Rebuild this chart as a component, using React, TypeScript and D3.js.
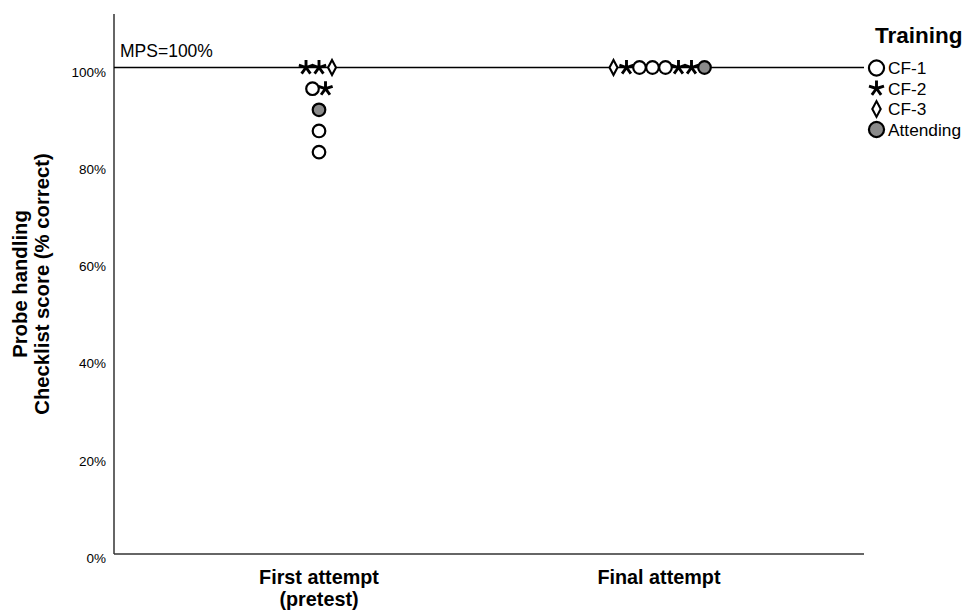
import React from "react";
import * as d3 from "d3";

const categories = ["First attempt", "Final attempt"];
const categoryLines = [["First attempt", "(pretest)"], ["Final attempt"]];
const groups = ["CF-1", "CF-2", "CF-3", "Attending"];
const yTicks = [0, 20, 40, 60, 80, 100];
const mps = 100;

// rows of dots: [category, score (% correct), list of groups in order]
const rowCategory = ["First attempt", "First attempt", "First attempt", "First attempt", "First attempt", "Final attempt"];
const rowScore = [100, 95.65, 91.3, 86.96, 82.61, 100];
const rowMembers = [
  ["CF-2", "CF-2", "CF-3"],
  ["CF-1", "CF-2"],
  ["Attending"],
  ["CF-1"],
  ["CF-1"],
  ["CF-3", "CF-2", "CF-1", "CF-1", "CF-1", "CF-2", "CF-2", "Attending"],
];

const W = 978;
const H = 613;
const font = "'Liberation Sans', Arial, sans-serif";

function starPath(r: number) {
  let d = "";
  for (let i = 0; i < 5; i++) {
    const a = (-90 + i * 72) * Math.PI / 180;
    d += `M0,0L${(Math.cos(a) * r).toFixed(2)},${(Math.sin(a) * r).toFixed(2)}`;
  }
  return d;
}

function Marker({ g, x, y, s = 1 }: { g: string; x: number; y: number; s?: number }) {
  if (g === "CF-1" || g === "Attending") {
    return (
      <circle cx={x} cy={y} r={6.3 * s} fill={g === "Attending" ? "#8a8a8a" : "#fff"} stroke="#000" strokeWidth={2.2} />
    );
  }
  if (g === "CF-2") {
    return <path transform={`translate(${x},${y})`} d={starPath(7.5 * s)} stroke="#000" strokeWidth={2.9} fill="none" />;
  }
  return (
    <path
      transform={`translate(${x},${y})`}
      d={`M0,${-7.5 * s}L${4 * s},0L0,${7.5 * s}L${-4 * s},0Z`}
      fill="#fff"
      stroke="#000"
      strokeWidth={2.1}
    />
  );
}

export default function App() {
  const left = 114, right = 864, top = 14, bottom = 554;
  const x = d3.scalePoint<string>().domain(categories).range([left, right]).padding(0.603);
  const y = d3.scaleLinear().domain([0, 111]).range([bottom, top]);
  const dotStep = 13;

  return (
    <svg width={W} height={H} style={{ position: "absolute", left: 0, top: 0, background: "#fff" }} fontFamily={font}>
      <rect width={W} height={H} fill="#fff" />
      {/* axes */}
      <line x1={left} x2={left} y1={top} y2={bottom} stroke="#333" strokeWidth={1.5} />
      <line x1={left} x2={right} y1={bottom} y2={bottom} stroke="#333" strokeWidth={1.5} />
      {yTicks.map((t) => (
        <text key={t} x={106} y={y(t) + 9} textAnchor="end" fontSize={13.5} fill="#000">
          {t}%
        </text>
      ))}
      {/* reference line */}
      <line x1={left} x2={right} y1={y(mps)} y2={y(mps)} stroke="#000" strokeWidth={1.6} />
      <text x={120} y={57} fontSize={17.5} fill="#000">MPS={mps}%</text>
      {/* category labels */}
      {categories.map((c, i) => (
        <text key={c} x={x(c)} y={584} textAnchor="middle" fontSize={19.8} fontWeight="bold" fill="#000">
          {categoryLines[i].map((l, j) => (
            <tspan key={j} x={x(c)} dy={j === 0 ? 0 : 22}>{l}</tspan>
          ))}
        </text>
      ))}
      {/* y title */}
      <g transform={`translate(27,${(top + bottom) / 2}) rotate(-90)`}>
        <text textAnchor="middle" fontSize={20.3} fontWeight="bold" fill="#000">
          <tspan x={0} dy={0}>Probe handling</tspan>
          <tspan x={0} dy={22}>Checklist score (% correct)</tspan>
        </text>
      </g>
      {/* dots */}
      {rowMembers.map((members, r) => {
        const cx = x(rowCategory[r])!;
        const cy = y(rowScore[r]);
        return members.map((g, i) => (
          <Marker key={`${r}-${i}`} g={g} x={cx + (i - (members.length - 1) / 2) * dotStep} y={cy} />
        ));
      })}
      {/* legend */}
      <text x={875} y={43} fontSize={22.5} fontWeight="bold" fill="#000">Training</text>
      {groups.map((g, i) => (
        <g key={g}>
          <Marker g={g} x={876.5} y={68 + i * 20.5} s={g === "CF-1" || g === "Attending" ? 1.2 : 1.05} />
          <text x={888} y={68 + i * 20.5 + 6} fontSize={17.3} fill="#000">{g}</text>
        </g>
      ))}
    </svg>
  );
}
